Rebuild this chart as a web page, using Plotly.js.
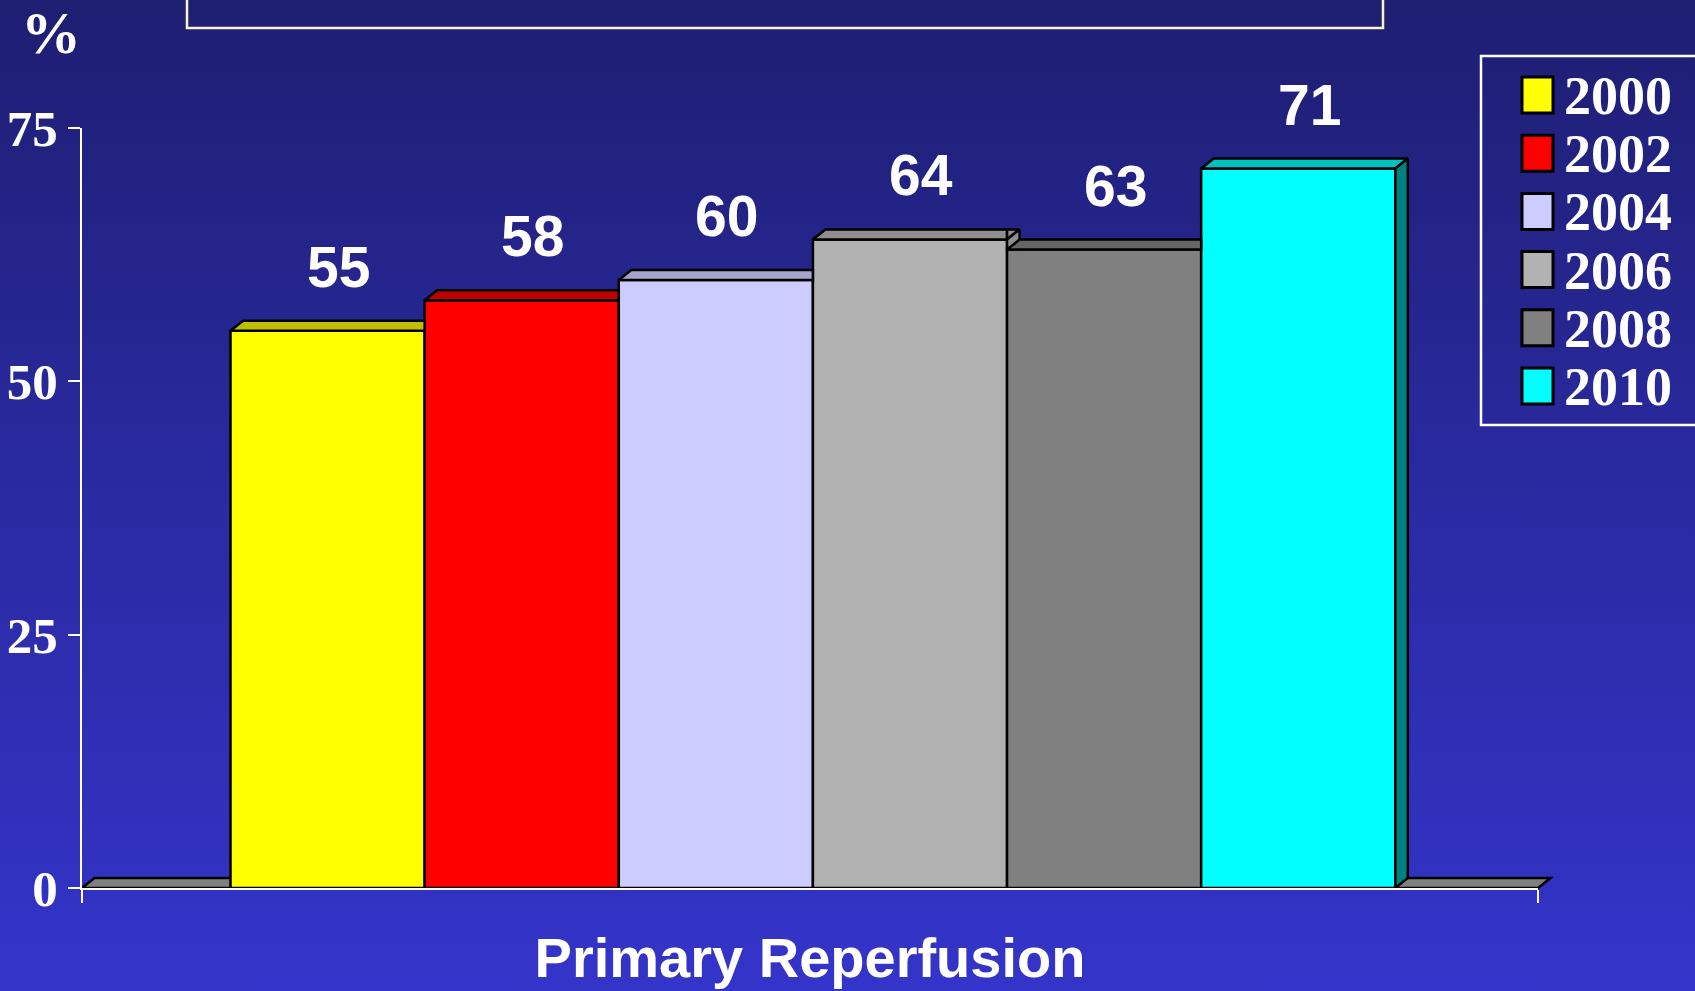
<!DOCTYPE html>
<html><head><meta charset="utf-8">
<script src="https://cdn.plot.ly/plotly-3.0.1.min.js"></script>
<style>
html,body{margin:0;padding:0;width:1695px;height:991px;overflow:hidden;
background:linear-gradient(to bottom,#1E1E72 0%,#2A2AA2 50%,#3434CA 100%);}
#chart{width:1695px;height:991px;}
</style></head><body><div id="chart"></div>
<script>
// ---- data ----
const categories = ["Primary Reperfusion"];
const years = ["2000", "2002", "2004", "2006", "2008", "2010"];
const values = [55, 58, 60, 64, 63, 71];
const yTickVals = [0, 25, 50, 75];
const unitLabel = "%";
// ---- styles ----
const frontColors = ["#FFFF00", "#FF0000", "#CCCCFF", "#B2B2B2", "#808080", "#00FFFF"];
const topColors   = ["#BFBF00", "#C00000", "#A3A3CC", "#8E8E8E", "#666666", "#00C0C0"];
const sideColors  = ["#9F9F00", "#A00000", "#8888AA", "#8E8E8E", "#555555", "#008080"];

function hasFont(name){
  const c = document.createElement('canvas').getContext('2d');
  c.font = 'bold 64px monospace';
  const a = c.measureText('55 Primary Reperfusion').width;
  c.font = 'bold 64px "' + name + '", monospace';
  const b = c.measureText('55 Primary Reperfusion').width;
  return Math.abs(a - b) > 0.5;
}
const narrow = hasFont('Liberation Sans Narrow');
const labelFont = narrow ? {family: '"Liberation Sans Narrow", "Liberation Sans", Arial, sans-serif', size: 64, color: '#FFFFFF', weight: 'bold'}
                         : {family: '"Liberation Sans", Arial, sans-serif', size: 57, color: '#FFFFFF', weight: 'bold'};
const serif = '"Liberation Serif", "Times New Roman", serif';

// ---- geometry (layout) ----
const W = 1695, H = 991;
const M = {l: 82, r: 157, t: 128, b: 103};
const plotW = W - M.l - M.r, plotH = H - M.t - M.b;
const px2x = p => (p - M.l) / plotW;
const py2y = p => (H - M.b - p) / plotH;

const xRange = [-0.502, 0.498];
const yRange = [0, 75];
const xSpan = xRange[1] - xRange[0];
const groupWidth = 0.8;
const n = values.length;
const w = groupWidth / n;
const DX = 12.5 / plotW * xSpan;                     // depth offset in x units
const DY = 10 / plotH * (yRange[1] - yRange[0]);     // depth offset in y units
const x2paper = x => (x - xRange[0]) / xSpan;
const y2paper = y => (y - yRange[0]) / (yRange[1] - yRange[0]);

function clipHP(poly, axis, bound, keepGreater){
  const out = [];
  for (let k = 0; k < poly.length; k++){
    const P = poly[k], Q = poly[(k + 1) % poly.length];
    const pin = keepGreater ? P[axis] >= bound - 1e-12 : P[axis] <= bound + 1e-12;
    const qin = keepGreater ? Q[axis] >= bound - 1e-12 : Q[axis] <= bound + 1e-12;
    if (pin) out.push(P);
    if (pin !== qin){
      const t = (bound - P[axis]) / (Q[axis] - P[axis]);
      out.push([P[0] + t * (Q[0] - P[0]), P[1] + t * (Q[1] - P[1])]);
    }
  }
  return out;
}
function area(poly){
  let a = 0;
  for (let k = 0; k < poly.length; k++){
    const P = poly[k], Q = poly[(k + 1) % poly.length];
    a += P[0] * Q[1] - Q[0] * P[1];
  }
  return Math.abs(a / 2);
}
function polyTrace(poly, color){
  const xs = poly.map(p => p[0]), ys = poly.map(p => p[1]);
  xs.push(xs[0]); ys.push(ys[0]);
  return {type: 'scatter', mode: 'lines', x: xs, y: ys, fill: 'toself', fillcolor: color,
          line: {color: '#000000', width: 2.5}, showlegend: false, hoverinfo: 'skip'};
}

const data = [];
// front faces
years.forEach((yr, i) => {
  data.push({
    type: 'bar', name: yr, x: [0], y: [values[i]], width: [w], offset: [-groupWidth / 2 + i * w],
    marker: {color: frontColors[i], line: {color: '#000000', width: 2.5}},
    showlegend: false, hovertemplate: yr + ': %{y}%<extra></extra>'
  });
});
// top and side faces
values.forEach((v, i) => {
  const x0 = -groupWidth / 2 + i * w, x1 = x0 + w;
  const top = [[x0, v], [x0 + DX, v + DY], [x1 + DX, v + DY], [x1, v]];
  const side = [[x1, 0], [x1 + DX, DY], [x1 + DX, v + DY], [x1, v]];
  let pieces = [];
  if (i < n - 1){
    const vn = values[i + 1];
    pieces.push([clipHP(top, 0, x1, false), topColors[i]]);
    pieces.push([clipHP(clipHP(top, 0, x1, true), 1, vn, true), topColors[i]]);
    pieces.push([clipHP(side, 1, vn, true), sideColors[i]]);
  } else {
    pieces.push([top, topColors[i]]);
    pieces.push([side, sideColors[i]]);
  }
  pieces.forEach(([p, c]) => { if (p.length > 2 && area(p) > 1e-6) data.push(polyTrace(p, c)); });
});

const shapes = [];
const annotations = [];
// floor (paper coords so the back edge is not clipped)
shapes.push({type: 'path', xref: 'paper', yref: 'paper', layer: 'below',
  path: `M${x2paper(xRange[0])},${y2paper(0)} L${x2paper(xRange[0] + DX)},${y2paper(DY)} L${x2paper(xRange[1] + DX)},${y2paper(DY)} L${x2paper(xRange[1])},${y2paper(0)} Z`,
  fillcolor: '#808080', line: {color: '#000000', width: 2.5}});
// title box (top of slide, cut off)
shapes.push({type: 'rect', xref: 'paper', yref: 'paper', x0: px2x(187), x1: px2x(1383), y0: py2y(28), y1: py2y(-40),
  line: {color: '#F8F4D0', width: 2.5}, fillcolor: 'rgba(0,0,0,0)'});
// legend box
shapes.push({type: 'rect', xref: 'paper', yref: 'paper', x0: px2x(1481), x1: px2x(1720), y0: py2y(425), y1: py2y(56),
  line: {color: '#FFFFFF', width: 2.5}, fillcolor: 'rgba(0,0,0,0)'});
years.forEach((yr, i) => {
  const c = 95 + 58.2 * i;
  shapes.push({type: 'rect', xref: 'paper', yref: 'paper', x0: px2x(1522), x1: px2x(1553), y0: py2y(c + 18), y1: py2y(c - 18),
    fillcolor: frontColors[i], line: {color: '#000000', width: 3}});
  annotations.push({xref: 'paper', yref: 'paper', x: px2x(1562), y: py2y(c + 1), xanchor: 'left', yanchor: 'middle',
    text: yr, showarrow: false, font: {family: serif, size: 54, color: '#FFFFFF', weight: 'bold'}});
});
// value labels
values.forEach((v, i) => {
  const xc = -groupWidth / 2 + (i + 0.5) * w;
  annotations.push({xref: 'x', yref: 'y', x: xc, y: v, xanchor: 'center', yanchor: 'bottom', xshift: 11, yshift: 30,
    text: String(v), showarrow: false, font: labelFont});
});
// unit label
annotations.push({xref: 'paper', yref: 'paper', x: px2x(51), y: py2y(33), xanchor: 'center', yanchor: 'middle',
  text: unitLabel, showarrow: false, font: {family: serif, size: 60, color: '#FFFFFF', weight: 'bold'}});

const layout = {
  width: W, height: H,
  margin: M,
  paper_bgcolor: 'rgba(0,0,0,0)', plot_bgcolor: 'rgba(0,0,0,0)',
  barmode: 'overlay',
  showlegend: false,
  xaxis: {
    range: xRange, showgrid: false, zeroline: false, showline: true, linecolor: '#FFFFFF', linewidth: 2,
    tickvals: xRange, ticktext: ['', ''], ticks: 'outside', ticklen: 13, tickwidth: 2, tickcolor: '#FFFFFF',
    automargin: false, fixedrange: true,
    title: {text: categories[0], standoff: 33, font: {family: '"Liberation Sans", Arial, sans-serif', size: 56, color: '#FFFFFF', weight: 'bold'}}
  },
  yaxis: {
    range: yRange, tickvals: yTickVals, showgrid: false, zeroline: false, showline: true, linecolor: '#FFFFFF', linewidth: 2,
    ticks: 'outside', ticklen: 12, tickwidth: 2, tickcolor: '#FFFFFF', automargin: false, fixedrange: true,
    tickfont: {family: serif, size: 51, color: '#FFFFFF', weight: 'bold'}
  },
  shapes: shapes,
  annotations: annotations
};
Plotly.newPlot('chart', data, layout, {displayModeBar: false, staticPlot: true});
</script></body></html>
